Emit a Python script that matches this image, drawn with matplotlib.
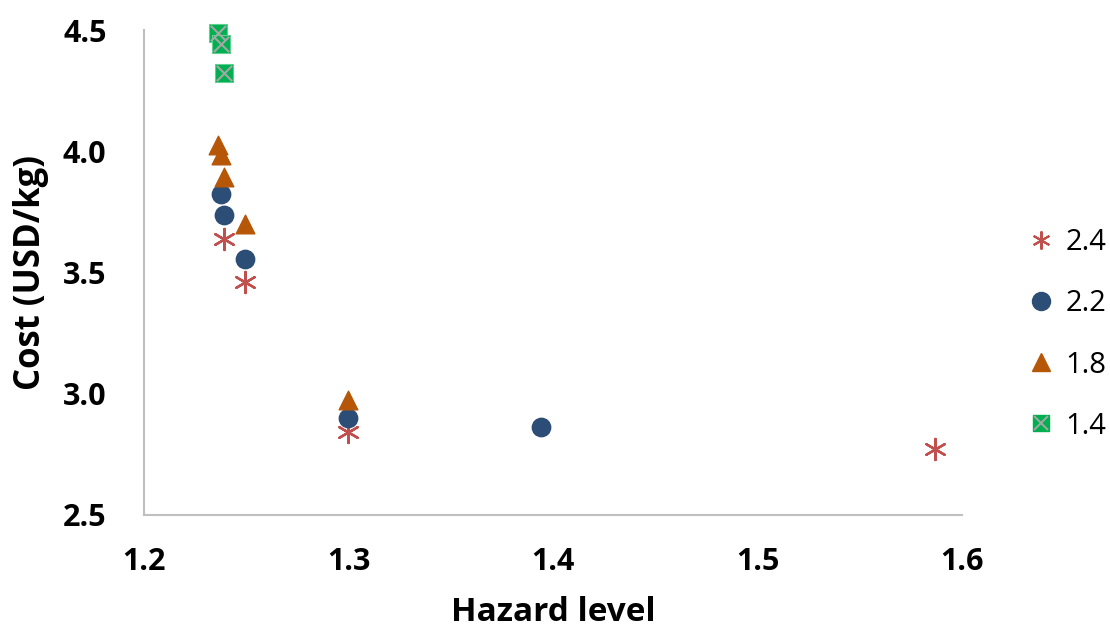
import matplotlib
matplotlib.use("Agg")
import matplotlib.pyplot as plt
from matplotlib.lines import Line2D
from matplotlib.legend_handler import HandlerTuple

plt.rcParams['font.family'] = ['Open Sans', 'DejaVu Sans']

# Data
x_24 = [1.2393, 1.2494, 1.2996, 1.5868]
y_24 = [3.637, 3.462, 2.843, 2.771]
x_22 = [1.2375, 1.2393, 1.2494, 1.2996, 1.3941]
y_22 = [3.824, 3.737, 3.554, 2.899, 2.862]
x_18 = [1.2363, 1.2375, 1.2393, 1.2494, 1.2996]
y_18 = [4.027, 3.983, 3.895, 3.700, 2.975]
x_14 = [1.2363, 1.2375, 1.2393]
y_14 = [4.486, 4.442, 4.321]
labels = ['2.4', '2.2', '1.8', '1.4']
xticks = [1.2, 1.3, 1.4, 1.5, 1.6]
yticks = [2.5, 3.0, 3.5, 4.0, 4.5]

c_red = '#c0504d'
c_blue = '#2c4d75'
c_orange = '#b65708'
c_green = '#00b050'
c_gray = '#a6a6a6'

fig = plt.figure(figsize=(11.1, 6.35), dpi=100)
ax = fig.add_axes([144/1110, 1-515/635, (962-144)/1110, (515-30)/635])

star = (6, 2, 0)
ax.scatter(x_24, y_24, marker=star, s=230, color=c_red, linewidths=1.7, zorder=3, clip_on=False)
ax.scatter(x_22, y_22, marker='o', s=175, color=c_blue, edgecolors=c_blue, zorder=3, clip_on=False)
ax.scatter(x_18, y_18, marker='^', s=180, color=c_orange, edgecolors=c_orange, zorder=3, clip_on=False)
ax.scatter(x_14, y_14, marker='s', s=165, color=c_green, edgecolors='#5fd08f', linewidths=0.8,
           zorder=3, clip_on=False)
ax.scatter(x_14, y_14, marker='x', s=120, color=c_gray, linewidths=1.5, zorder=4, clip_on=False)

ax.set_xlim(1.2, 1.6)
ax.set_ylim(2.5, 4.5)
ax.set_xticks(xticks)
ax.set_yticks(yticks)
ax.set_xticklabels([f'{v:.1f}' for v in xticks], fontsize=22, fontweight='bold')
ax.set_yticklabels([f'{v:.1f}' for v in yticks], fontsize=22, fontweight='bold')
ax.tick_params(axis='x', length=0, pad=23)
ax.tick_params(axis='y', length=0, pad=27)
for s in ['top', 'right']:
    ax.spines[s].set_visible(False)
for s in ['left', 'bottom']:
    ax.spines[s].set_color('#bfbfbf')
    ax.spines[s].set_linewidth(1.5)

ax.set_xlabel('Hazard level', fontsize=24, fontweight='bold', labelpad=14)
ax.set_ylabel('Cost (USD/kg)', fontsize=25, fontweight='bold', labelpad=10)

h24 = Line2D([], [], ls='none', marker=star, ms=13, color=c_red, mew=1.5)
h22 = Line2D([], [], ls='none', marker='o', ms=13, color=c_blue)
h18 = Line2D([], [], ls='none', marker='^', ms=13, color=c_orange)
h14a = Line2D([], [], ls='none', marker='s', ms=12, color=c_green)
h14b = Line2D([], [], ls='none', marker='x', ms=10, color=c_gray, mew=1.4)
leg = fig.legend([h24, h22, h18, (h14a, h14b)], labels,
                 handler_map={tuple: HandlerTuple(ndivide=1, pad=0)},
                 loc='center left', bbox_to_anchor=(1029/1110, 1-334.5/635),
                 frameon=False, fontsize=21, handlelength=0.8, handletextpad=0.45,
                 labelspacing=1.1, borderaxespad=0, borderpad=0)

fig.savefig('out.png', dpi=100)
